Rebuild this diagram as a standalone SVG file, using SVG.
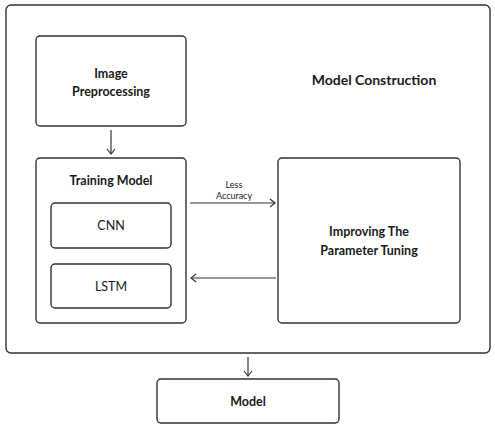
<svg xmlns="http://www.w3.org/2000/svg" width="495" height="430" viewBox="0 0 495 430">
<style>
.box{fill:#fff;stroke:#333;stroke-width:1.4}
.t{font-family:Lato,"Liberation Sans",sans-serif;font-size:12.5px;font-weight:bold;fill:#1a1a1a;text-anchor:middle}
.n{font-family:Lato,"Liberation Sans",sans-serif;font-size:12.5px;fill:#1a1a1a;text-anchor:middle}
.s{font-family:Lato,"Liberation Sans",sans-serif;font-size:9px;fill:#1a1a1a;text-anchor:middle}
.c{stroke:#333;stroke-width:1.2;fill:none}
</style>
<defs>
<marker id="ah" markerWidth="8" markerHeight="10" refX="6" refY="5" orient="auto" markerUnits="userSpaceOnUse">
<path d="M1,1 L6,5 L1,9" fill="none" stroke="#333" stroke-width="1.2"/>
</marker>
</defs>
<rect width="495" height="430" fill="#fff"/>
<g id="construction">
<rect class="box" x="6" y="5" width="484" height="348" rx="5"/>
<text class="t" x="374" y="85" style="font-size:14px">Model Construction</text>
</g>
<g id="preprocessing">
<rect class="box" x="36" y="36" width="150" height="90" rx="4"/>
<text class="t" x="111" y="78">Image</text>
<text class="t" x="111" y="96">Preprocessing</text>
</g>
<g id="training">
<rect class="box" x="36" y="158" width="150" height="165" rx="4"/>
<text class="t" x="111" y="185">Training Model</text>
</g>
<g id="cnn">
<rect class="box" x="51" y="203" width="120" height="45" rx="4"/>
<text class="n" x="111" y="230">CNN</text>
</g>
<g id="lstm">
<rect class="box" x="51" y="264" width="120" height="44" rx="4"/>
<text class="n" x="111" y="291">LSTM</text>
</g>
<g id="improving">
<rect class="box" x="278" y="158" width="182" height="165" rx="4"/>
<text class="t" x="369" y="236">Improving The</text>
<text class="t" x="369" y="255">Parameter Tuning</text>
</g>
<g id="model">
<rect class="box" x="157" y="379" width="182" height="44" rx="4"/>
<text class="t" x="248" y="406">Model</text>
</g>
<g id="connectors">
<line class="c" x1="190" y1="203" x2="275" y2="203" marker-end="url(#ah)"/>
<line class="c" x1="111" y1="130" x2="111" y2="154" marker-end="url(#ah)"/>
<line class="c" x1="276" y1="278" x2="191" y2="278" marker-end="url(#ah)"/>
<line class="c" x1="248" y1="357" x2="248" y2="376" marker-end="url(#ah)"/>
<text class="s" x="234" y="188">Less</text>
<text class="s" x="234" y="198.5">Accuracy</text>
</g>
</svg>
